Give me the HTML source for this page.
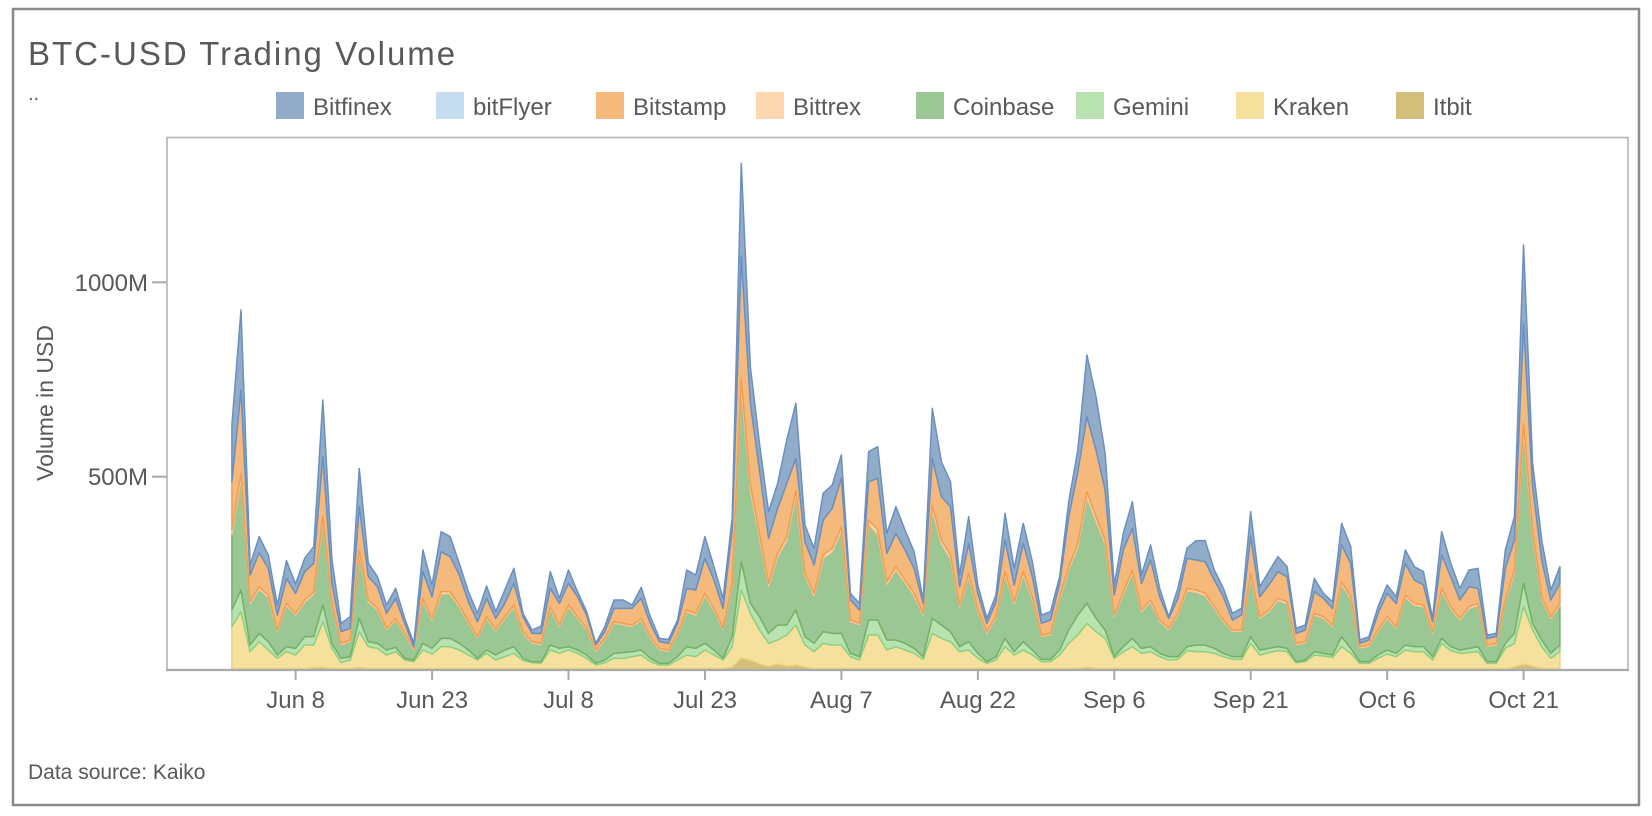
<!DOCTYPE html>
<html>
<head>
<meta charset="utf-8">
<style>
html,body{margin:0;padding:0;background:#fff;}
body{width:1652px;height:816px;overflow:hidden;}
svg{display:block;}
text{font-family:"Liberation Sans",Arial,sans-serif;fill:#595959;}
</style>
</head>
<body>
<svg id="chart" width="1652" height="816" viewBox="0 0 1652 816" xmlns="http://www.w3.org/2000/svg">
  <rect x="0" y="0" width="1652" height="816" fill="#fff"/>
  <rect x="13" y="9" width="1626" height="796" fill="#fff" stroke="#8a8a8a" stroke-width="2.5"/>
  <text x="28" y="65" font-size="33" letter-spacing="2">BTC-USD Trading Volume</text>
  <text x="28" y="100" font-size="20">..</text>

  <!-- legend -->
  <g font-size="24">
    <rect x="276" y="92" width="28" height="27" fill="#91acc9"/><text x="313" y="115">Bitfinex</text>
    <rect x="436" y="92" width="28" height="27" fill="#c6ddf0"/><text x="473" y="115">bitFlyer</text>
    <rect x="596" y="92" width="28" height="27" fill="#f5b97b"/><text x="633" y="115">Bitstamp</text>
    <rect x="756" y="92" width="28" height="27" fill="#fdd7b0"/><text x="793" y="115">Bittrex</text>
    <rect x="916" y="92" width="28" height="27" fill="#9ac793"/><text x="953" y="115">Coinbase</text>
    <rect x="1076" y="92" width="28" height="27" fill="#b8e3b0"/><text x="1113" y="115">Gemini</text>
    <rect x="1236" y="92" width="28" height="27" fill="#f6e09e"/><text x="1273" y="115">Kraken</text>
    <rect x="1396" y="92" width="28" height="27" fill="#d3bf7c"/><text x="1433" y="115">Itbit</text>
  </g>

  <g id="areas"></g>

  <!-- plot frame -->
  <rect x="167" y="137.5" width="1461" height="532.5" fill="none" stroke="#b4b4b4" stroke-width="1.6"/>
  <line x1="166" y1="670" x2="1629" y2="670" stroke="#aaaaaa" stroke-width="2.2"/>

  <!-- y axis -->
  <g stroke="#aaaaaa" stroke-width="2">
    <line x1="152" y1="282.3" x2="167" y2="282.3"/>
    <line x1="152" y1="476.7" x2="167" y2="476.7"/>
  </g>
  <g font-size="24" text-anchor="end">
    <text x="148" y="291">1000M</text>
    <text x="148" y="485">500M</text>
  </g>
  <text transform="translate(53,403) rotate(-90)" font-size="23" text-anchor="middle">Volume in USD</text>

  <!-- x axis ticks -->
  <g stroke="#aaaaaa" stroke-width="2">
    <line x1="295.6" y1="671" x2="295.6" y2="680"/>
    <line x1="432.1" y1="671" x2="432.1" y2="680"/>
    <line x1="568.5" y1="671" x2="568.5" y2="680"/>
    <line x1="705.0" y1="671" x2="705.0" y2="680"/>
    <line x1="841.4" y1="671" x2="841.4" y2="680"/>
    <line x1="977.9" y1="671" x2="977.9" y2="680"/>
    <line x1="1114.3" y1="671" x2="1114.3" y2="680"/>
    <line x1="1250.7" y1="671" x2="1250.7" y2="680"/>
    <line x1="1387.2" y1="671" x2="1387.2" y2="680"/>
    <line x1="1523.6" y1="671" x2="1523.6" y2="680"/>
  </g>
  <g font-size="24" text-anchor="middle">
    <text x="295.6" y="708">Jun 8</text>
    <text x="432.1" y="708">Jun 23</text>
    <text x="568.5" y="708">Jul 8</text>
    <text x="705.0" y="708">Jul 23</text>
    <text x="841.4" y="708">Aug 7</text>
    <text x="977.9" y="708">Aug 22</text>
    <text x="1114.3" y="708">Sep 6</text>
    <text x="1250.7" y="708">Sep 21</text>
    <text x="1387.2" y="708">Oct 6</text>
    <text x="1523.6" y="708">Oct 21</text>
  </g>

  <text x="28" y="779" font-size="21">Data source: Kaiko</text>
</svg>

<script>
(function(){
var c1=[
[465,635,780,1020,1070],[120,360,610,960,1025],[885,915,995,1125,1145],[800,848,950,1090,1115],
[855,895,975,1115,1140],[1005,1035,1080,1155,1165],[872,925,1000,1130,1145],[942,970,1030,1135,1155],
[865,905,990,1100,1125],[830,880,965,1100,1125],[390,560,740,1005,1055],[870,940,1000,1120,1135],
[1060,1085,1120,1165,1178],[1040,1075,1110,1160,1170],[595,710,840,1045,1085],[880,920,990,1115,1130],
[920,950,1015,1120,1135],[1005,1030,1075,1140,1155],[955,985,1045,1132,1145],[1045,1060,1090,1165,1170],
[1120,1130,1135,1170,1175],[840,905,985,1120,1140],[945,980,1045,1135,1152],[785,845,965,1105,1130],
[800,860,965,1105,1130],[880,915,1005,1120,1140],[965,995,1055,1140,1155],[1030,1055,1100,1165,1170],
[948,985,1040,1140,1150],[1025,1045,1078,1155,1170],[960,1000,1040,1140,1160],[895,940,1005,1130,1150],
[1030,1040,1085,1165,1172],[1080,1090,1115,1175,1178],[1068,1090,1120,1175,1180],[905,955,1010,1125,1140],
[985,1000,1065,1135,1150],[900,940,1005,1130,1140],[965,980,1040,1140,1150],[1025,1035,1075,1155,1165],
[1120,1125,1140,1180,1185],[1070,1085,1105,1170,1178],[990,1015,1055,1150,1165],[990,1015,1060,1148,1165],
[1005,1015,1065,1145,1160],[952,985,1045,1140,1155],[1040,1060,1100,1165,1175],[1105,1115,1135,1180,1185],
[1108,1120,1140,1180,1185],[1050,1060,1090,1160,1170],[900,955,1020,1130,1155],[915,960,1030,1135,1160]
];
var c2=[
[1160,1225,1330,1480,1500],[1250,1290,1375,1500,1515],[1345,1375,1435,1525,1530],[1105,1140,1300,1460,1490],
[40,320,685,1235,1320],[650,760,1005,1360,1390],[880,960,1150,1400,1440],[1085,1165,1300,1450,1480],
[1000,1075,1210,1425,1470],[870,1000,1160,1425,1455],[760,925,1020,1380,1425],[1125,1175,1270,1460,1485],
[1195,1245,1330,1480,1505],[1030,1110,1215,1445,1480],[1005,1075,1195,1450,1485],[915,985,1130,1450,1485],
[1330,1350,1410,1510,1520],[1360,1380,1420,1520,1530],[905,995,1110,1410,1455],[890,985,1140,1410,1455],
[1150,1210,1295,1470,1500],[1070,1150,1250,1470,1490],[1140,1200,1290,1480,1500],[1205,1255,1330,1495,1510],
[1350,1360,1390,1520,1528],[775,925,1065,1405,1450],[935,1040,1170,1425,1465],[995,1070,1215,1445,1475],
[1275,1310,1365,1490,1505],[1100,1180,1270,1475,1500],[1305,1330,1380,1510,1525],[1405,1420,1445,1535,1540],
[1335,1355,1400,1520,1530],[1090,1170,1265,1465,1490],[1255,1305,1355,1505,1515],[1120,1180,1265,1475,1500],
[1235,1280,1340,1500,1515],[1395,1420,1455,1528,1535],[1385,1410,1450,1528,1535],[1280,1300,1340,1500,1515],
[1055,1100,1250,1440,1480],[900,965,1180,1395,1455],[615,800,1025,1360,1420],[740,900,1100,1405,1445],
[910,1020,1170,1440,1465],[1305,1335,1395,1520,1525],[1150,1200,1325,1490,1505],[1055,1135,1260,1465,1490],
[1275,1300,1380,1495,1510]
];
var c3=[
[945,990,1110,1250,1265],[1075,1100,1170,1270,1280],[1160,1165,1195,1280,1290],[1075,1105,1150,1280,1288],
[955,985,1075,1250,1262],[932,990,1080,1245,1265],[932,995,1090,1245,1265],[1020,1050,1130,1255,1270],
[1075,1100,1170,1270,1280],[1150,1170,1200,1280,1288],[1135,1155,1200,1280,1288],[845,920,1030,1220,1240],
[1070,1100,1160,1260,1275],[1025,1065,1140,1255,1268],[980,1025,1105,1250,1262],[1010,1040,1115,1255,1265],
[1195,1210,1240,1295,1298],[1185,1200,1235,1290,1295],[1045,1085,1150,1265,1275],[1090,1105,1160,1270,1278],
[1115,1135,1185,1275,1282],[880,945,1055,1220,1250],[950,1000,1100,1255,1270],[1230,1240,1250,1295,1300],
[1220,1230,1245,1295,1300],[1130,1150,1200,1275,1285],[1065,1090,1160,1260,1272],[1100,1120,1190,1270,1280],
[960,1000,1095,1245,1260],[1010,1050,1120,1250,1265],[1025,1065,1125,1250,1265],[1165,1175,1205,1280,1290],
[905,975,1075,1225,1240],[1000,1040,1130,1250,1262],[1075,1110,1165,1260,1270],[1020,1070,1130,1255,1268],
[1015,1075,1120,1250,1265],[1215,1225,1245,1295,1300],[1210,1220,1240,1295,1300],[960,1015,1110,1240,1255],
[860,930,1020,1210,1240],[45,280,580,1060,1130],[700,770,900,1180,1200],[930,990,1100,1230,1250],
[1080,1110,1160,1270,1285],[1010,1060,1120,1245,1265]
];
var rows=[];
function add(a,b){for(var k=0;k<a.length;k++){var r=a[k],o=[];for(var j=0;j<5;j++)o.push((b-r[j])/3);rows.push(o);}}
add(c1,1200);add(c2,1560);add(c3,1320);
var itb={9:2.5,10:3,14:2.5,55:3,56:12,57:10,58:6,59:4,60:6,61:4,62:5,63:3,94:3,141:3,142:6,143:4};
var vals=[];
for(var i=0;i<rows.length;i++){
  var r=rows[i],T=r[0],O=r[1],ob=r[2],gb=r[3],lg=r[4];
  var it=itb[i]||1.5;
  var kr=Math.max(lg,it+1);
  var gem=Math.max(gb,kr);
  var obb=Math.max(ob,gem+1);
  var bt=Math.max(1.3,0.03*obb);
  var cb=Math.max(gem,obb-bt);
  var bs=Math.max(O,obb);
  var tt=Math.max(T,bs);
  vals.push([it,kr,gem,cb,obb,bs,bs,tt]);
}
function X(i){return 231.9+9.096*i;}
function Y(h){return 670-h;}
var fills=["#d3bf7c","#f6e09e","#b8e3b0","#9ac793","#fdd7b0","#f5b97b","#c6ddf0","#91acc9"];
var strokes=["#c4ad62","#eed27c","#8fcf82","#74b068","#fbc696","#ee9f55","#93bde3","#6b8fbf"];
var g=document.getElementById("areas");
var ns="http://www.w3.org/2000/svg";
var n=vals.length;
for(var s=0;s<8;s++){
  var d="";
  for(var i=0;i<n;i++){d+=(i?"L":"M")+X(i).toFixed(2)+","+Y(vals[i][s]).toFixed(2);}
  for(var i=n-1;i>=0;i--){var h=s?vals[i][s-1]:0;d+="L"+X(i).toFixed(2)+","+Y(h).toFixed(2);}
  d+="Z";
  var p=document.createElementNS(ns,"path");
  p.setAttribute("d",d);
  p.setAttribute("fill",fills[s]);
  p.setAttribute("stroke",strokes[s]);
  p.setAttribute("stroke-width","1.5");
  p.setAttribute("stroke-linejoin","round");
  g.appendChild(p);
}
})();
</script>
</body>
</html>
